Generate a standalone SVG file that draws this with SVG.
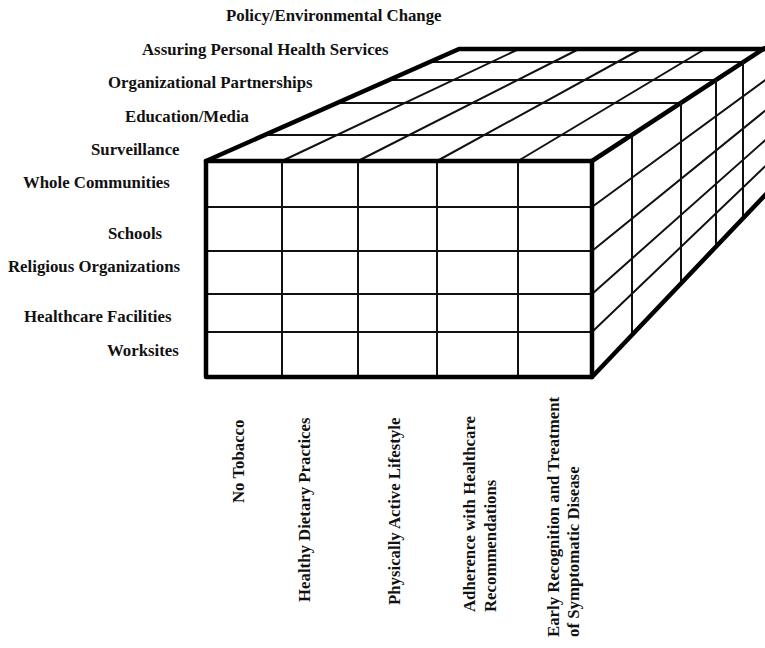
<svg xmlns="http://www.w3.org/2000/svg" width="765" height="648" viewBox="0 0 765 648">
  <style>
    .lbl { font-family: "Liberation Serif", "Times New Roman", serif; font-weight: bold; font-size: 16.8px; fill: #111; }
    .thin { stroke: #111; stroke-width: 2; fill: none; stroke-linecap: round; }
    .thick { stroke: #000; stroke-width: 4.5; fill: none; stroke-linejoin: round; stroke-linecap: round; }
  </style>
  <rect x="0" y="0" width="765" height="648" fill="#fff"/>

  <g id="cube">
    <g id="top-face">
      <path class="thin" d="M282,161 L519,49 M358,161 L579,49 M437,161 L641,49 M518,161 L705,49"/>
      <path class="thin" d="M265,135 L632,135 M337,103 L681,103 M389,80 L716,80 M430,62 L743,62"/>
      <polyline class="thick" points="206,161 459,49 766,49"/>
      <path class="thick" d="M592,161 L765,48"/>
    </g>
    <g id="side-face">
      <path class="thin" d="M632,135 L632,336 M681,103 L681,284 M716,80 L716,248 M743,62 L743,219"/>
      <path class="thin" d="M592,207 L766,79.5 M592,251 L766,110 M592,294 L766,139.5 M592,332 L766,165.5"/>
      <path class="thick" d="M592,377 L768,192"/>
    </g>
    <g id="front-face">
      <path class="thin" d="M282,161 L282,377 M358,161 L358,377 M437,161 L437,377 M518,161 L518,377"/>
      <path class="thin" d="M206,207 L592,207 M206,251 L592,251 M206,294 L592,294 M206,332 L592,332"/>
      <rect class="thick" x="206" y="161" width="386" height="216"/>
    </g>
  </g>

  <g id="strategy-labels">
    <text class="lbl" x="226" y="21">Policy/Environmental Change</text>
    <text class="lbl" x="142" y="55">Assuring Personal Health Services</text>
    <text class="lbl" x="108" y="88">Organizational Partnerships</text>
    <text class="lbl" x="125" y="121.5">Education/Media</text>
    <text class="lbl" x="91" y="155">Surveillance</text>
  </g>

  <g id="setting-labels">
    <text class="lbl" x="23" y="188">Whole Communities</text>
    <text class="lbl" x="108" y="238.5">Schools</text>
    <text class="lbl" x="8" y="272">Religious Organizations</text>
    <text class="lbl" x="24" y="322">Healthcare Facilities</text>
    <text class="lbl" x="107" y="355.5">Worksites</text>
  </g>

  <g id="behavior-labels">
    <text class="lbl" transform="translate(244,503) rotate(-90)">No Tobacco</text>
    <text class="lbl" transform="translate(310,602) rotate(-90)">Healthy Dietary Practices</text>
    <text class="lbl" transform="translate(400,605) rotate(-90)">Physically Active Lifestyle</text>
    <text class="lbl" transform="translate(475,612) rotate(-90)">Adherence with Healthcare</text>
    <text class="lbl" transform="translate(496,612) rotate(-90)">Recommendations</text>
    <text class="lbl" transform="translate(559,637) rotate(-90)">Early Recognition and Treatment</text>
    <text class="lbl" transform="translate(579,637) rotate(-90)">of Symptomatic Disease</text>
  </g>
</svg>
